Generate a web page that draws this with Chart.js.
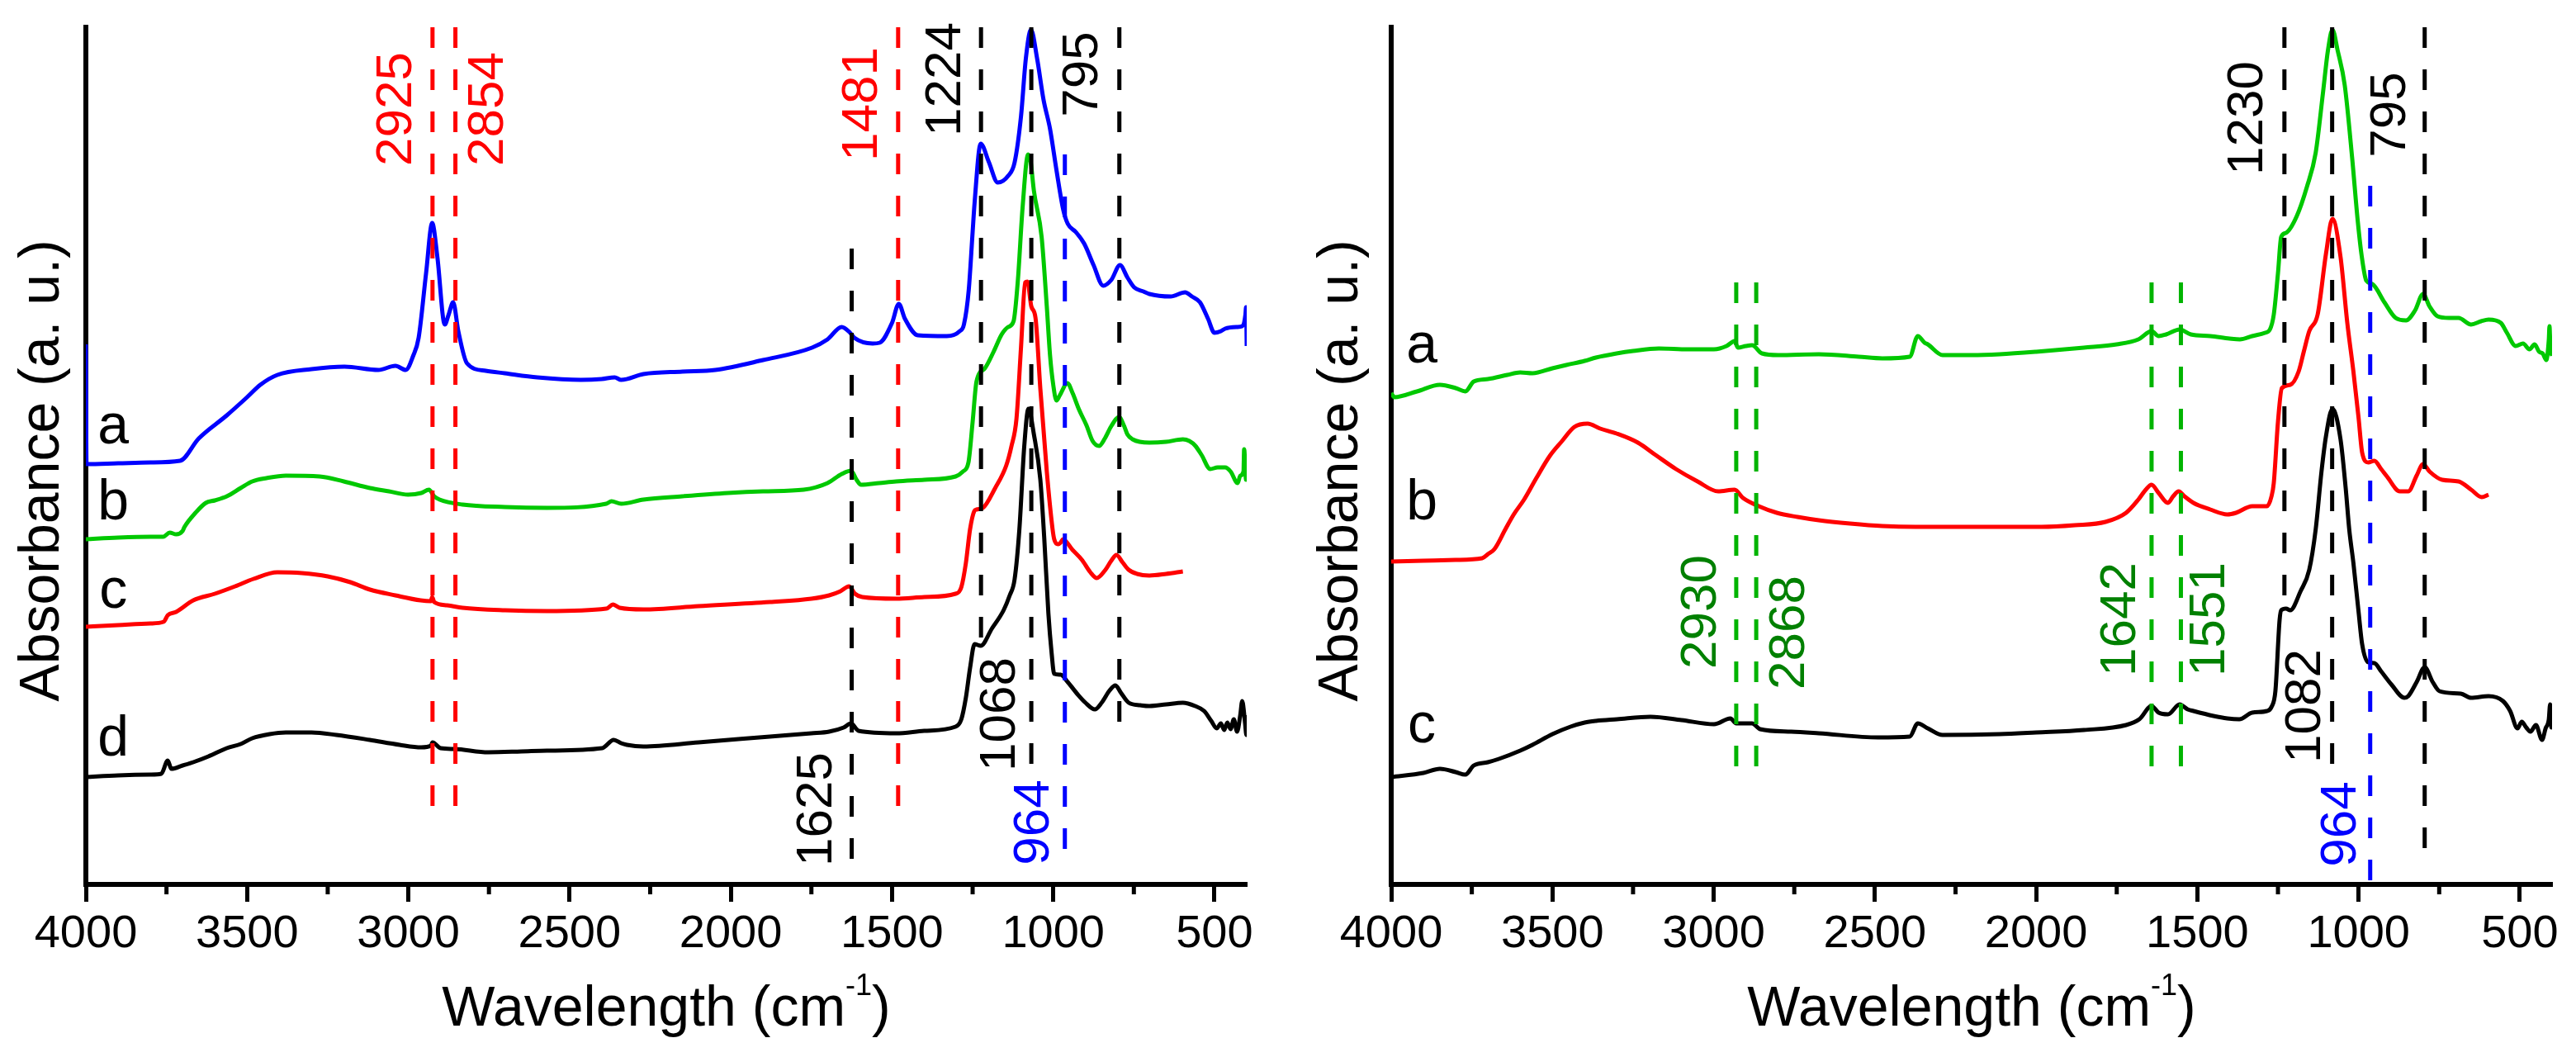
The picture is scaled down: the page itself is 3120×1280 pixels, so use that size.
<!DOCTYPE html>
<html>
<head>
<meta charset="utf-8">
<script src="https://cdn.jsdelivr.net/npm/chart.js@4.4.1/dist/chart.umd.min.js"></script>
<style>
  html, body { margin: 0; padding: 0; background: #fff; }
  #wrap { position: relative; width: 3120px; height: 1280px; }
  canvas { position: absolute; top: 0; }
</style>
</head>
<body>
<div id="wrap">
  <canvas id="chart-left" width="1560" height="1280" style="left:0"></canvas>
  <canvas id="chart-right" width="1560" height="1280" style="left:1560px"></canvas>
</div>
<script>
// ---- axis ticks ----
const xTickValues = [4000, 3500, 3000, 2500, 2000, 1500, 1000, 500];
const xMinorTickValues = [3750, 3250, 2750, 2250, 1750, 1250, 750];
const xMin = 400, xMax = 4000;
const yMin = 0, yMax = 1038;

// ---- left panel spectra (wavenumber, absorbance a.u.) ----
const leftSeriesNames = ['a', 'b', 'c', 'd'];

const wnLeftA = [4000, 3998, 3900, 3800, 3708, 3650, 3563, 3500, 3459, 3406, 3300, 3198, 3093, 3040, 3008, 2985, 2968, 2945, 2926, 2910, 2887, 2875, 2861, 2845, 2818, 2760, 2701, 2600, 2465, 2400, 2360, 2340, 2271, 2150, 2048, 1900, 1748, 1700, 1656, 1630, 1617, 1560, 1538, 1500, 1479, 1460, 1420, 1330, 1290, 1277, 1262, 1250, 1244, 1225, 1200, 1172, 1140, 1120, 1100, 1085, 1069, 1050, 1030, 1010, 990, 969, 955, 930, 904, 875, 845, 820, 793, 770, 749, 720, 702, 636, 591, 570, 545, 520, 500, 480, 467, 430, 414, 404, 402, 400];
const absLeftA = [654, 509, 510, 511, 513, 540, 568, 590, 605, 617, 624, 627, 623, 628, 623, 640, 662, 740, 801, 760, 678, 690, 705, 670, 631, 622, 619, 614, 611, 612, 614, 611, 618, 621, 623, 635, 650, 660, 675, 668, 662, 655, 656, 680, 703, 685, 665, 664, 670, 678, 720, 790, 825, 897, 875, 850, 858, 874, 930, 1000, 1035, 1000, 950, 915, 865, 817, 800, 790, 776, 750, 725, 732, 750, 735, 723, 718, 715, 712, 717, 712, 705, 685, 668, 670, 673, 675, 676, 690, 699, 652];

const wnLeftB = [4000, 3900, 3800, 3760, 3740, 3720, 3700, 3694, 3660, 3628, 3600, 3563, 3520, 3484, 3440, 3380, 3275, 3200, 3119, 3060, 3001, 2960, 2936, 2920, 2903, 2832, 2700, 2570, 2386, 2370, 2340, 2271, 2150, 2009, 1900, 1774, 1700, 1656, 1627, 1610, 1596, 1540, 1487, 1400, 1303, 1280, 1263, 1250, 1238, 1212, 1185, 1160, 1140, 1123, 1110, 1095, 1078, 1070, 1060, 1036, 1020, 1010, 1000, 990, 980, 956, 940, 920, 897, 878, 858, 840, 820, 796, 780, 770, 754, 702, 650, 598, 578, 559, 540, 513, 490, 467, 450, 428, 420, 410, 408, 402, 400];
const absLeftB = [418, 420, 421, 421, 426, 424, 428, 433, 450, 462, 465, 470, 480, 488, 492, 495, 494, 488, 480, 476, 472, 474, 478, 470, 466, 460, 457, 456, 461, 464, 461, 466, 470, 474, 476, 478, 486, 497, 501, 490, 484, 486, 488, 490, 494, 500, 511, 560, 609, 625, 645, 666, 675, 682, 730, 820, 884, 875, 840, 784, 700, 641, 605, 586, 592, 607, 595, 575, 556, 537, 531, 540, 555, 566, 555, 545, 539, 535, 536, 539, 537, 531, 520, 503, 505, 505, 500, 486, 495, 500, 527, 490, 500];

const wnLeftC = [4000, 3900, 3800, 3759, 3746, 3720, 3667, 3600, 3537, 3480, 3406, 3330, 3250, 3180, 3119, 3040, 2962, 2930, 2926, 2920, 2880, 2832, 2700, 2570, 2386, 2365, 2345, 2271, 2100, 1879, 1750, 1695, 1660, 1633, 1615, 1592, 1487, 1400, 1303, 1285, 1271, 1258, 1245, 1238, 1218, 1180, 1146, 1130, 1114, 1100, 1087, 1080, 1068, 1055, 1040, 1020, 1002, 997, 985, 977, 970, 940, 911, 885, 865, 840, 820, 804, 785, 766, 740, 702, 650, 598];
const absLeftC = [312, 314, 316, 318, 326, 330, 344, 352, 361, 370, 378, 377, 373, 366, 357, 350, 344, 343, 348, 342, 338, 335, 332, 331, 334, 339, 335, 333, 337, 342, 346, 350, 355, 361, 352, 348, 346, 348, 352, 360, 389, 430, 452, 454, 456, 480, 507, 530, 564, 650, 729, 730, 700, 686, 600, 500, 430, 418, 412, 414, 418, 405, 393, 378, 371, 380, 392, 399, 390, 381, 376, 374, 376, 379];

const wnLeftD = [4000, 3900, 3800, 3766, 3746, 3735, 3700, 3667, 3620, 3563, 3520, 3484, 3430, 3380, 3300, 3223, 3120, 3027, 2960, 2930, 2925, 2900, 2857, 2752, 2650, 2570, 2399, 2363, 2340, 2322, 2271, 2100, 1879, 1750, 1695, 1650, 1627, 1610, 1604, 1487, 1400, 1303, 1285, 1271, 1258, 1244, 1225, 1190, 1154, 1135, 1120, 1105, 1090, 1077, 1060, 1040, 1028, 1015, 1005, 997, 977, 955, 924, 900, 871, 850, 825, 807, 790, 766, 730, 702, 650, 598, 560, 532, 510, 493, 480, 470, 460, 450, 440, 430, 420, 414, 405, 401, 400];
const absLeftD = [130, 132, 133, 134, 150, 140, 144, 148, 155, 165, 170, 177, 182, 184, 184, 181, 175, 169, 166, 168, 172, 165, 164, 160, 161, 162, 165, 175, 171, 169, 167, 172, 179, 183, 185, 190, 195, 188, 186, 183, 186, 191, 200, 226, 262, 291, 289, 310, 332, 350, 369, 430, 530, 576, 545, 490, 420, 328, 280, 255, 254, 245, 230, 220, 212, 220, 235, 241, 232, 220, 217, 216, 218, 220, 216, 210, 198, 189, 195, 187, 196, 188, 200, 185, 205, 222, 195, 181, 205];

// ---- right panel spectra ----
const rightSeriesNames = ['a', 'b', 'c'];

const wnRightA = [4000, 3990, 3920, 3849, 3800, 3770, 3744, 3700, 3640, 3600, 3562, 3500, 3457, 3400, 3365, 3301, 3250, 3170, 3080, 2999, 2960, 2935, 2925, 2900, 2881, 2850, 2800, 2674, 2550, 2477, 2392, 2367, 2346, 2336, 2290, 2200, 2113, 2000, 1852, 1750, 1683, 1642, 1620, 1597, 1555, 1520, 1460, 1400, 1368, 1330, 1290, 1275, 1263, 1250, 1240, 1225, 1192, 1160, 1133, 1110, 1095, 1081, 1065, 1043, 1020, 1003, 990, 976, 957, 920, 885, 853, 825, 800, 780, 755, 720, 690, 651, 620, 597, 559, 540, 513, 490, 470, 454, 440, 429, 418, 410, 408, 405, 400];
const absRightA = [595, 590, 597, 605, 601, 597, 609, 612, 617, 620, 619, 625, 629, 634, 638, 643, 646, 649, 648, 648, 652, 658, 650, 652, 653, 643, 641, 642, 639, 637, 639, 664, 656, 654, 641, 641, 642, 645, 650, 654, 660, 670, 664, 666, 672, 666, 664, 661, 660, 664, 668, 672, 690, 740, 784, 789, 809, 845, 886, 960, 1010, 1035, 1010, 968, 880, 805, 760, 731, 727, 705, 686, 683, 695, 715, 700, 688, 686, 686, 678, 682, 684, 680, 668, 652, 655, 648, 654, 645, 643, 635, 660, 676, 650, 640];

const wnRightB = [4000, 3900, 3800, 3718, 3700, 3680, 3646, 3620, 3588, 3550, 3508, 3470, 3432, 3391, 3352, 3301, 3235, 3180, 3117, 3050, 2986, 2935, 2909, 2860, 2804, 2740, 2674, 2577, 2477, 2374, 2200, 1983, 1880, 1785, 1721, 1683, 1660, 1642, 1620, 1591, 1575, 1558, 1540, 1512, 1460, 1407, 1380, 1330, 1284, 1270, 1263, 1250, 1238, 1212, 1186, 1170, 1153, 1127, 1101, 1081, 1056, 1035, 1016, 1000, 989, 970, 951, 930, 912, 872, 846, 820, 800, 780, 741, 690, 651, 618, 597];
const absRightB = [391, 392, 393, 395, 400, 406, 430, 448, 466, 492, 519, 537, 554, 558, 552, 546, 535, 520, 503, 488, 476, 478, 468, 458, 450, 445, 441, 437, 434, 433, 433, 433, 435, 439, 450, 466, 478, 484, 474, 462, 470, 476, 470, 462, 454, 448, 450, 458, 458, 470, 486, 560, 601, 605, 621, 645, 670, 690, 764, 806, 760, 680, 621, 565, 523, 511, 513, 503, 494, 476, 476, 495, 509, 500, 490, 488, 478, 469, 472];

const wnRightC = [4000, 3900, 3849, 3800, 3770, 3744, 3700, 3666, 3600, 3562, 3500, 3444, 3400, 3365, 3300, 3196, 3100, 2999, 2948, 2930, 2881, 2856, 2760, 2674, 2490, 2392, 2367, 2336, 2290, 2113, 2000, 1852, 1721, 1680, 1642, 1620, 1591, 1555, 1530, 1512, 1450, 1407, 1370, 1330, 1284, 1270, 1258, 1245, 1240, 1225, 1212, 1180, 1153, 1133, 1115, 1101, 1081, 1056, 1040, 1029, 1016, 1000, 989, 970, 951, 930, 898, 858, 846, 820, 795, 770, 749, 683, 651, 597, 552, 530, 507, 494, 480, 467, 450, 431, 420, 410, 406, 402, 400];
const absRightC = [130, 135, 140, 136, 133, 144, 148, 152, 162, 169, 182, 191, 196, 198, 200, 203, 199, 194, 201, 195, 195, 188, 185, 183, 178, 179, 195, 189, 181, 182, 184, 187, 193, 200, 216, 208, 206, 218, 212, 210, 204, 201, 200, 208, 210, 215, 234, 320, 332, 334, 332, 355, 381, 430, 500, 543, 576, 539, 480, 430, 389, 330, 291, 269, 268, 258, 242, 226, 228, 245, 263, 245, 234, 231, 226, 228, 222, 210, 189, 197, 190, 185, 193, 175, 189, 200, 218, 190, 200];

// ---- marked bands (wavenumbers) ----
const leftMarkerWn = [2925, 2854, 1625, 1481, 1224, 1068, 964, 795];
const rightMarkerWn = [2930, 2868, 1642, 1551, 1230, 1082, 964, 795];

// ---- styles ----
const BLUE = '#0000ff', RED = '#ff0000', GREEN = '#00c800', BLACK = '#000000';
const GREEN_DASH = '#00b400', GREEN_TEXT = '#008000';
const FONT = '"Liberation Sans", Arial, sans-serif';

// marker line extents (y range) and colours
const leftMarkerStyle = [
  { top: 1038, bottom: 91, color: RED },
  { top: 1038, bottom: 91, color: RED },
  { top: 770, bottom: 26, color: BLACK },
  { top: 1038, bottom: 91, color: RED },
  { top: 1038, bottom: 295, color: BLACK },
  { top: 1038, bottom: 142, color: BLACK },
  { top: 884, bottom: 38, color: BLUE },
  { top: 1038, bottom: 191, color: BLACK }
];
const rightMarkerStyle = [
  { top: 729, bottom: 142, color: GREEN_DASH },
  { top: 729, bottom: 142, color: GREEN_DASH },
  { top: 729, bottom: 142, color: GREEN_DASH },
  { top: 729, bottom: 142, color: GREEN_DASH },
  { top: 1038, bottom: 335, color: BLACK },
  { top: 1038, bottom: 142, color: BLACK },
  { top: 846, bottom: 0, color: BLUE },
  { top: 1038, bottom: 38, color: BLACK }
];
// label placement: offset from marker line (px), vertical centre (y value), colour
const leftLabelStyle = [
  { dx: -43, yc: 939, color: RED },
  { dx: 40, yc: 939, color: RED },
  { dx: -42, yc: 91, color: BLACK },
  { dx: -43, yc: 945, color: RED },
  { dx: -42, yc: 975, color: BLACK },
  { dx: -37, yc: 206, color: BLACK },
  { dx: -37, yc: 75, color: BLUE },
  { dx: -44, yc: 981, color: BLACK }
];
const rightLabelStyle = [
  { dx: -42, yc: 330, color: GREEN_TEXT },
  { dx: 41, yc: 305, color: GREEN_TEXT },
  { dx: -37, yc: 321, color: GREEN_TEXT },
  { dx: 35, yc: 321, color: GREEN_TEXT },
  { dx: -44, yc: 928, color: BLACK },
  { dx: -32, yc: 216, color: BLACK },
  { dx: -35, yc: 73, color: BLUE },
  { dx: -41, yc: 932, color: BLACK }
];
// series letter placement (wavenumber, baseline y value)
const leftLetterPos = [[3915, 534], [3915, 442], [3915, 335], [3915, 156]];
const rightLetterPos = [[3905, 632], [3905, 442], [3905, 172]];

function toPoints(wn, ab) {
  return wn.map((w, i) => ({ x: w, y: ab[i] }));
}

function curve(wn, ab, color) {
  return {
    data: toPoints(wn, ab),
    borderColor: color,
    borderWidth: 5,
    pointRadius: 0,
    cubicInterpolationMode: 'monotone',
    order: 2
  };
}

function markers(wns, styles) {
  return wns.map((w, i) => ({
    data: [{ x: w, y: styles[i].top }, { x: w, y: styles[i].bottom }],
    borderColor: styles[i].color,
    borderWidth: 5,
    borderDash: [25, 26],
    borderCapStyle: 'butt',
    pointRadius: 0,
    order: 1
  }));
}

function overlayPlugin(panel) {
  return {
    id: 'overlay',
    afterDraw(chart) {
      const ctx = chart.ctx;
      const xs = chart.scales.x, ys = chart.scales.y;
      const area = chart.chartArea;
      ctx.save();

      // minor ticks
      ctx.strokeStyle = BLACK;
      ctx.lineWidth = 5;
      xMinorTickValues.forEach(v => {
        const px = xs.getPixelForValue(v);
        ctx.beginPath();
        ctx.moveTo(px, area.bottom);
        ctx.lineTo(px, area.bottom + 12);
        ctx.stroke();
      });

      // y title
      ctx.save();
      ctx.translate(area.left - panel.yTitleOffset, (area.top + area.bottom) / 2 + 18);
      ctx.rotate(-Math.PI / 2);
      ctx.fillStyle = BLACK;
      ctx.font = '68px ' + FONT;
      ctx.textAlign = 'center';
      ctx.textBaseline = 'middle';
      ctx.fillText('Absorbance (a. u.)', 0, 0);
      ctx.restore();

      // x title with superscript
      const main = 'Wavelength (cm', sup = '-1', close = ')';
      ctx.fillStyle = BLACK;
      ctx.textBaseline = 'alphabetic';
      ctx.textAlign = 'left';
      ctx.font = '68px ' + FONT;
      const wMain = ctx.measureText(main).width;
      const wClose = ctx.measureText(close).width;
      ctx.font = '36px ' + FONT;
      const wSup = ctx.measureText(sup).width;
      let tx = (area.left + area.right) / 2 - (wMain + wSup + wClose) / 2;
      const base = 1242;
      ctx.font = '68px ' + FONT;
      ctx.fillText(main, tx, base);
      tx += wMain;
      ctx.font = '36px ' + FONT;
      ctx.fillText(sup, tx, base - 37);
      tx += wSup;
      ctx.font = '68px ' + FONT;
      ctx.fillText(close, tx, base);

      // band labels
      ctx.font = '62px ' + FONT;
      ctx.textAlign = 'center';
      ctx.textBaseline = 'middle';
      panel.markerWn.forEach((w, i) => {
        const st = panel.labelStyle[i];
        ctx.save();
        ctx.translate(xs.getPixelForValue(w) + st.dx, ys.getPixelForValue(st.yc));
        ctx.rotate(-Math.PI / 2);
        ctx.fillStyle = st.color;
        ctx.fillText(String(w), 0, 0);
        ctx.restore();
      });

      // series letters
      ctx.font = '68px ' + FONT;
      ctx.fillStyle = BLACK;
      ctx.textAlign = 'center';
      ctx.textBaseline = 'alphabetic';
      panel.names.forEach((n, i) => {
        const p = panel.letterPos[i];
        ctx.fillText(n, xs.getPixelForValue(p[0]), ys.getPixelForValue(p[1]));
      });

      ctx.restore();
    }
  };
}

function buildPanel(canvasId, datasets, panel) {
  const ctx = document.getElementById(canvasId).getContext('2d');
  return new Chart(ctx, {
    type: 'line',
    data: { datasets },
    options: {
      responsive: false,
      animation: false,
      devicePixelRatio: 1,
      layout: { padding: { top: 33, right: panel.padRight, bottom: 0, left: 0 } },
      plugins: { legend: { display: false }, tooltip: { enabled: false } },
      scales: {
        x: {
          type: 'linear',
          min: xMin,
          max: xMax,
          reverse: true,
          afterBuildTicks: scale => { scale.ticks = xTickValues.map(v => ({ value: v })); },
          afterFit: scale => { scale.height = 1280 - 1071; },
          ticks: {
            color: BLACK,
            font: { size: 56, family: FONT },
            padding: 6,
            maxRotation: 0,
            autoSkip: false,
            callback: v => String(v)
          },
          grid: { display: true, drawOnChartArea: false, drawTicks: true, tickLength: 21, tickWidth: 5, tickColor: BLACK },
          border: { display: true, color: BLACK, width: 6 }
        },
        y: {
          min: yMin,
          max: yMax,
          afterFit: scale => { scale.width = panel.axisLeft; },
          ticks: { display: false },
          grid: { display: false },
          border: { display: true, color: BLACK, width: 6 }
        }
      }
    },
    plugins: [overlayPlugin(panel)]
  });
}

buildPanel('chart-left', [
  curve(wnLeftA, absLeftA, BLUE),
  curve(wnLeftB, absLeftB, GREEN),
  curve(wnLeftC, absLeftC, RED),
  curve(wnLeftD, absLeftD, BLACK),
  ...markers(leftMarkerWn, leftMarkerStyle)
], {
  axisLeft: 104, padRight: 50, yTitleOffset: 52,
  markerWn: leftMarkerWn, labelStyle: leftLabelStyle,
  names: leftSeriesNames, letterPos: leftLetterPos
});

buildPanel('chart-right', [
  curve(wnRightA, absRightA, GREEN),
  curve(wnRightB, absRightB, RED),
  curve(wnRightC, absRightC, BLACK),
  ...markers(rightMarkerWn, rightMarkerStyle)
], {
  axisLeft: 125, padRight: 29, yTitleOffset: 60,
  markerWn: rightMarkerWn, labelStyle: rightLabelStyle,
  names: rightSeriesNames, letterPos: rightLetterPos
});
</script>
</body>
</html>
